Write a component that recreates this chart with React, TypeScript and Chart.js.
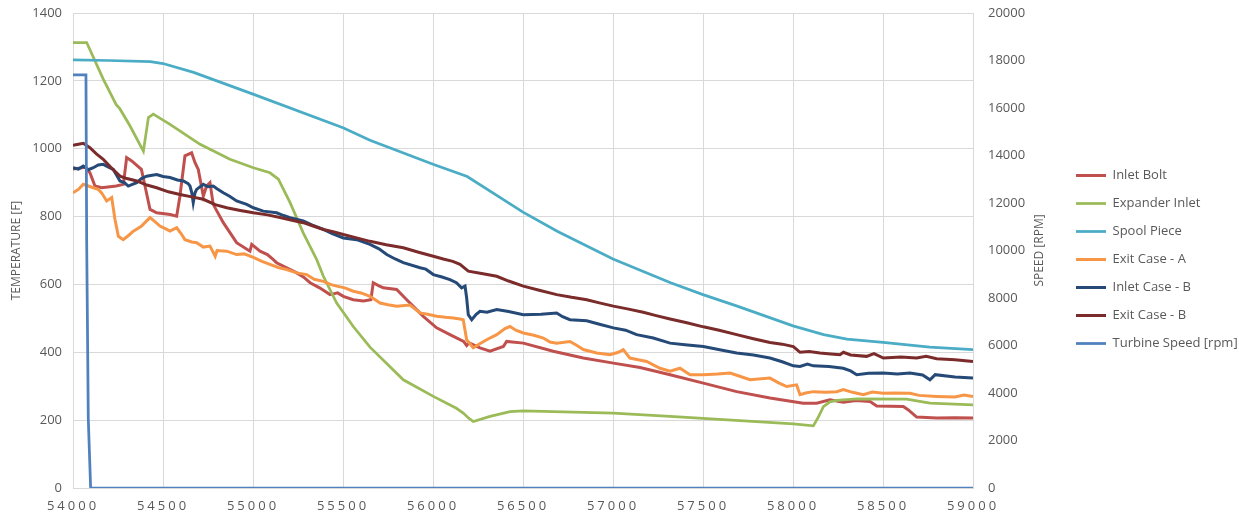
import React, { useEffect, useRef } from 'react';
import { Chart, registerables, LinearScale } from 'chart.js';

Chart.register(...registerables);

class SpacedLinearScale extends LinearScale {
  static id = 'spacedLinear';
  static defaults = LinearScale.defaults;
  drawLabels(area: any) {
    const ctx: any = this.ctx;
    ctx.save();
    ctx.letterSpacing = '3px';
    super.drawLabels(area);
    ctx.restore();
  }
}
Chart.register(SpacedLinearScale as any);

// ---- Data (time, value) ----
const seriesNames = [
  'Inlet Bolt',
  'Expander Inlet',
  'Spool Piece',
  'Exit Case - A',
  'Inlet Case - B',
  'Exit Case - B',
  'Turbine Speed [rpm]',
];
const seriesColors = ['#C0504D', '#9BBB59', '#4BACC6', '#F79646', '#264A78', '#7A2B2A', '#4F81BD'];
const seriesWidths = [3, 2.75, 2.75, 3, 3, 3, 2.75];

const xTicks = { min: 54000, max: 59000, step: 500 };
const tempTicks = { min: 0, max: 1400, step: 200 };
const speedTicks = { min: 0, max: 20000, step: 2000 };
const leftAxisTitle = 'TEMPERATURE [F]';
const rightAxisTitle = 'SPEED [RPM]';

const inletBolt: [number, number][] = [
  [54000, 940], [54070, 945], [54094, 929], [54122, 890], [54160, 885], [54240, 890], [54280, 895],
  [54298, 974], [54326, 964], [54380, 939], [54400, 890], [54428, 821], [54465, 811], [54540, 806],
  [54576, 801], [54594, 860], [54622, 979], [54659, 988], [54678, 959], [54696, 939], [54724, 860],
  [54742, 890], [54761, 900], [54779, 836], [54835, 782], [54909, 723], [54983, 698], [54993, 718],
  [55039, 698], [55080, 688], [55113, 673], [55131, 664], [55190, 648], [55243, 634], [55280, 622],
  [55317, 605], [55370, 590], [55428, 570], [55470, 575], [55502, 565], [55557, 555], [55613, 551],
  [55655, 555], [55668, 605], [55700, 596], [55724, 590], [55798, 585], [55854, 555], [55946, 506],
  [56020, 472], [56094, 452], [56170, 432], [56187, 420], [56200, 428], [56261, 413], [56317, 403],
  [56391, 417], [56409, 432], [56502, 427], [56668, 403], [56835, 383], [57002, 368], [57150, 355],
  [57317, 334], [57502, 309], [57687, 284], [57872, 265], [58057, 250], [58131, 250], [58205, 260],
  [58279, 253], [58350, 258], [58428, 255], [58465, 242], [58613, 240], [58641, 230], [58687, 209],
  [58798, 206], [58900, 207], [59000, 206],
];

const expanderInlet: [number, number][] = [
  [54000, 1313], [54076, 1313], [54168, 1205], [54240, 1130], [54260, 1118], [54317, 1067],
  [54391, 993], [54410, 1060], [54419, 1092], [54446, 1102], [54539, 1072], [54706, 1013],
  [54872, 969], [55002, 944], [55094, 929], [55141, 910], [55206, 841], [55279, 752], [55354, 673],
  [55391, 624], [55465, 545], [55557, 476], [55650, 415], [55835, 319], [56002, 270], [56130, 235],
  [56168, 221], [56200, 205], [56224, 196], [56317, 211], [56428, 225], [56502, 227], [57002, 221],
  [57317, 211], [58002, 189], [58113, 183], [58140, 208], [58169, 240], [58205, 254], [58243, 258],
  [58354, 263], [58631, 262], [58761, 250], [59000, 245],
];

const spoolPiece: [number, number][] = [
  [54000, 1262], [54200, 1260], [54430, 1257], [54500, 1251], [54670, 1225], [55000, 1161],
  [55500, 1062], [55650, 1025], [56000, 954], [56190, 918], [56500, 813], [56690, 757],
  [57000, 675], [57320, 605], [57500, 570], [57690, 536], [58000, 478], [58170, 452],
  [58300, 439], [58500, 429], [58760, 415], [59000, 408],
];

const exitCaseA: [number, number][] = [
  [54000, 870], [54030, 880], [54057, 895], [54085, 890], [54113, 885], [54140, 880], [54159, 870],
  [54187, 846], [54215, 856], [54233, 792], [54252, 742], [54279, 732], [54310, 745], [54335, 757],
  [54360, 765], [54381, 772], [54405, 785], [54428, 797], [54455, 785], [54483, 772], [54510, 765],
  [54539, 757], [54576, 767], [54600, 750], [54622, 732], [54660, 725], [54687, 723], [54724, 710],
  [54761, 713], [54790, 683], [54800, 700], [54854, 698], [54909, 688], [54950, 690], [55002, 680],
  [55050, 668], [55094, 659], [55140, 650], [55187, 644], [55243, 634], [55298, 629], [55340, 615],
  [55391, 609], [55430, 600], [55465, 595], [55510, 590], [55557, 580], [55600, 575], [55650, 565],
  [55706, 545], [55750, 540], [55798, 536], [55872, 539], [55928, 516], [55970, 512], [56020, 506],
  [56070, 503], [56113, 501], [56150, 498], [56168, 496], [56187, 437], [56224, 413], [56260, 425],
  [56298, 437], [56354, 452], [56400, 470], [56428, 476], [56460, 465], [56502, 457], [56560, 450],
  [56613, 442], [56650, 430], [56687, 427], [56761, 432], [56800, 420], [56835, 408], [56909, 398],
  [56983, 393], [57030, 400], [57057, 408], [57094, 383], [57140, 378], [57187, 373], [57261, 353],
  [57317, 344], [57372, 353], [57428, 334], [57502, 334], [57580, 336], [57650, 339], [57700, 330],
  [57761, 319], [57872, 324], [57920, 310], [57965, 299], [58020, 304], [58039, 275], [58070, 280],
  [58113, 284], [58180, 282], [58243, 284], [58280, 290], [58330, 282], [58391, 275], [58440, 283],
  [58502, 279], [58560, 280], [58650, 279], [58700, 273], [58798, 270], [58900, 268], [58950, 274],
  [59000, 270],
];

const inletCaseB: [number, number][] = [
  [54000, 944], [54030, 940], [54057, 949], [54085, 938], [54113, 944], [54140, 952], [54168, 954],
  [54200, 945], [54224, 939], [54261, 905], [54285, 900], [54307, 890], [54330, 895], [54354, 900],
  [54380, 912], [54409, 919], [54440, 922], [54465, 924], [54500, 918], [54539, 915], [54580, 908],
  [54613, 905], [54640, 897], [54650, 890], [54660, 870], [54668, 841], [54678, 870], [54687, 880],
  [54724, 895], [54750, 888], [54779, 890], [54800, 882], [54835, 870], [54870, 860], [54909, 846],
  [54965, 836], [55002, 826], [55057, 816], [55131, 811], [55170, 803], [55206, 797], [55279, 787],
  [55330, 775], [55391, 762], [55440, 750], [55502, 737], [55576, 732], [55650, 718], [55700, 705],
  [55743, 688], [55790, 675], [55835, 664], [55928, 649], [55960, 645], [56002, 629], [56050, 622],
  [56094, 614], [56130, 605], [56159, 590], [56178, 595], [56187, 560], [56196, 511], [56215, 496],
  [56240, 512], [56261, 521], [56300, 518], [56354, 526], [56420, 520], [56502, 511], [56600, 512],
  [56687, 516], [56720, 505], [56761, 496], [56854, 493], [56930, 482], [57002, 472], [57070, 465],
  [57131, 452], [57224, 442], [57317, 427], [57400, 422], [57502, 417], [57600, 407], [57687, 398],
  [57780, 392], [57872, 383], [57940, 372], [58002, 360], [58039, 358], [58080, 365], [58113, 360],
  [58200, 358], [58279, 353], [58320, 345], [58354, 334], [58420, 338], [58502, 339], [58580, 336],
  [58650, 339], [58720, 333], [58761, 319], [58790, 334], [58900, 327], [59000, 324],
];

const exitCaseB: [number, number][] = [
  [54000, 1010], [54030, 1013], [54057, 1016], [54094, 1003], [54130, 985], [54168, 969],
  [54210, 945], [54261, 919], [54300, 912], [54354, 905], [54410, 893], [54465, 885], [54530, 873],
  [54594, 865], [54660, 858], [54724, 851], [54790, 835], [54854, 826], [54930, 818], [55002, 811],
  [55080, 805], [55150, 797], [55210, 790], [55279, 782], [55330, 773], [55391, 762], [55450, 755],
  [55502, 747], [55570, 738], [55650, 727], [55740, 717], [55835, 708], [55920, 695], [56002, 683],
  [56057, 675], [56110, 668], [56150, 659], [56196, 639], [56270, 632], [56354, 624], [56420, 610],
  [56502, 595], [56590, 583], [56687, 570], [56770, 562], [56854, 555], [56930, 545], [57002, 536],
  [57080, 528], [57168, 518], [57240, 508], [57317, 498], [57410, 487], [57502, 475], [57590, 465],
  [57687, 452], [57780, 440], [57872, 429], [57940, 424], [58002, 417], [58039, 400], [58090, 402],
  [58150, 398], [58210, 395], [58261, 393], [58280, 400], [58320, 392], [58409, 388], [58450, 396],
  [58502, 383], [58600, 386], [58687, 383], [58740, 388], [58798, 381], [58900, 378], [59000, 373],
];

const turbineSpeed: [number, number][] = [
  [54000, 17400], [54072, 17400], [54076, 10400], [54085, 2900], [54098, 0], [59000, 0],
];

const seriesData = [inletBolt, expanderInlet, spoolPiece, exitCaseA, inletCaseB, exitCaseB, turbineSpeed];

const FONT = '"Open Sans", "Noto Sans", sans-serif';
const TEXT = '#595959';
const GRID = '#D9D9D9';

const rightTitlePlugin = {
  id: 'rightTitle',
  afterDraw(chart: any) {
    const { ctx, chartArea } = chart;
    const s = chart.scales.y1;
    ctx.save();
    ctx.font = `12px ${FONT}`;
    ctx.fillStyle = TEXT;
    ctx.textAlign = 'center';
    ctx.textBaseline = 'middle';
    ctx.translate(s.left + 67, (chartArea.top + chartArea.bottom) / 2);
    ctx.rotate(-Math.PI / 2);
    ctx.fillText(rightAxisTitle, 0, 0);
    ctx.restore();
  },
};

const fitVertical = (width: number) => (s: any) => {
  s.width = width;
  s.paddingTop = 13;
  s.paddingBottom = 0;
};

export default function App() {
  const ref = useRef<HTMLCanvasElement | null>(null);
  useEffect(() => {
    if (!ref.current) return;
    const datasets = seriesNames.map((name, i) => ({
      label: name,
      data: seriesData[i].map(([x, y]) => ({ x, y })),
      borderColor: seriesColors[i],
      backgroundColor: seriesColors[i],
      borderWidth: seriesWidths[i],
      pointRadius: 0,
      pointHoverRadius: 0,
      tension: 0,
      fill: false,
      yAxisID: i === 6 ? 'y1' : 'y',
      order: 6 - i,
    }));
    const chart = new Chart(ref.current, {
      type: 'line',
      data: { datasets },
      plugins: [rightTitlePlugin],
      options: {
        animation: false,
        responsive: true,
        maintainAspectRatio: false,
        layout: { padding: 0 },
        plugins: {
          tooltip: { enabled: false },
          legend: {
            position: 'right',
            align: 'center',
            reverse: true,
            maxWidth: 178,
            labels: {
              usePointStyle: true,
              pointStyle: 'line',
              pointStyleWidth: 30,
              padding: 15,
              color: TEXT,
              font: { family: FONT, size: 13 },
            },
          },
        },
        scales: {
          x: {
            type: 'spacedLinear' as any,
            position: 'bottom',
            min: xTicks.min,
            max: xTicks.max,
            afterFit: (s: any) => { s.height = 31; },
            ticks: {
              stepSize: xTicks.step,
              autoSkip: false,
              maxRotation: 0,
              padding: 10,
              color: TEXT,
              font: { family: FONT, size: 13 },
              callback: (v: any) => String(v),
            },
            grid: { color: GRID, lineWidth: 1, drawTicks: false },
            border: { color: GRID },
          },
          y: {
            type: 'linear',
            position: 'left',
            min: tempTicks.min,
            max: tempTicks.max,
            afterFit: fitVertical(73),
            ticks: {
              stepSize: tempTicks.step,
              padding: 11,
              color: TEXT,
              font: { family: FONT, size: 13 },
              callback: (v: any) => String(v),
            },
            grid: { color: GRID, lineWidth: 1, drawTicks: false },
            border: { color: GRID },
            title: {
              display: true,
              text: leftAxisTitle,
              color: TEXT,
              font: { family: FONT, size: 12 },
              padding: { top: 9, bottom: 0 },
            },
          },
          y1: {
            type: 'linear',
            position: 'right',
            min: speedTicks.min,
            max: speedTicks.max,
            afterFit: fitVertical(88),
            ticks: {
              stepSize: speedTicks.step,
              padding: 15,
              color: TEXT,
              font: { family: FONT, size: 13 },
              callback: (v: any) => String(v),
            },
            grid: { display: false, drawTicks: false },
            border: { display: false },
          },
        },
      },
    } as any);
    return () => chart.destroy();
  }, []);
  return (
    <div style={{ position: 'fixed', left: 0, top: 0, width: 1239, height: 519, background: '#fff' }}>
      <canvas ref={ref} />
    </div>
  );
}
